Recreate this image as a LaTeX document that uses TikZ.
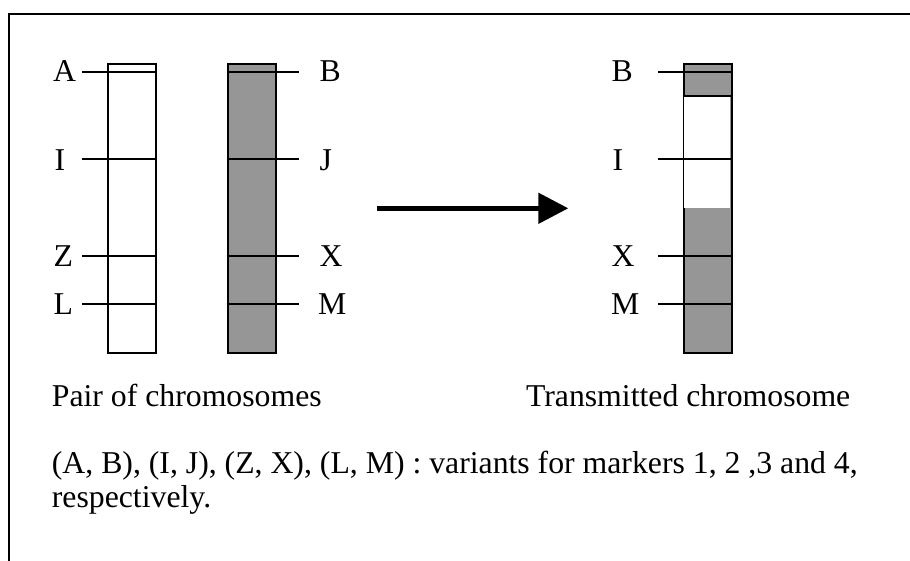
\documentclass[tikz,border=0pt]{standalone}
\usepackage{fontspec}
\setmainfont{Liberation Serif}
\usetikzlibrary{arrows.meta}
\definecolor{chromgray}{HTML}{969696}
\begin{document}
\begin{tikzpicture}[x=1pt,y=-1pt,
  lbl/.style={anchor=base west,inner sep=0pt,font=\fontsize{31.75}{36}\selectfont},
  chrom/.style={draw=black,line width=2pt,minimum width=48pt,minimum height=288.4pt,inner sep=0pt,anchor=north west},
  mk/.style={line width=2pt},
  bigarrow/.style={line width=5pt,-{Triangle[length=30pt,width=30pt]}}]
\useasboundingbox (0,0) rectangle (910,560);
% frame (right and bottom edges lie outside the picture)
\draw[line width=2pt] (9,575) -- (9,14) -- (925,14);

% left chromosome (white)
\node[chrom,fill=white] (c1) at (106.7,63.3) {};
% right chromosome (gray)
\node[chrom,fill=chromgray] (c2) at (226.7,63.3) {};
% transmitted chromosome
\node[chrom,fill=chromgray] (c3) at (682.7,63.3) {};
\fill[white] (683.7,95.7) rectangle (729.7,207.7);
\draw[mk] (682.7,95.7) -- (730.7,95.7);

% marker coordinates and lines
\foreach \n/\y in {A/71.7,I/159.3,Z/256,L/304}{
  \coordinate (l\n) at (82.3,\y);
  \coordinate (r\n) at (155,\y);
  \draw[mk] (l\n) -- (r\n);
}
\foreach \n/\y in {B/71.7,J/159.3,X/256,M/304}{
  \coordinate (l\n) at (226.7,\y);
  \coordinate (r\n) at (299.3,\y);
  \draw[mk] (l\n) -- (r\n);
}
\foreach \n/\y in {B/71.7,I/159.3,X/256,M/304}{
  \coordinate (tl\n) at (658.3,\y);
  \coordinate (tr\n) at (730.7,\y);
  \draw[mk] (tl\n) -- (tr\n);
}

% labels
\node[lbl] (tA) at (53,81.5) {A};
\node[lbl] (tI) at (54.5,170) {I};
\node[lbl] (tZ) at (53.5,266) {Z};
\node[lbl] (tL) at (53.5,314.5) {L};
\node[lbl] (tB) at (319.5,81.5) {B};
\node[lbl] (tJ) at (319.5,170) {J};
\node[lbl] (tX) at (319.5,266) {X};
\node[lbl] (tM) at (318,314.5) {M};
\node[lbl] (uB) at (611.5,81.5) {B};
\node[lbl] (uI) at (612.5,170) {I};
\node[lbl] (uX) at (611.5,266) {X};
\node[lbl] (uM) at (611,314.5) {M};

% arrow
\coordinate (as) at (376.7,208.3);
\coordinate (ae) at (568.3,208.3);
\draw[bigarrow] (as) -- (ae);

% captions
\node[lbl] (cap1) at (51.7,406) {Pair of chromosomes};
\node[lbl,anchor=base east] (cap2) at (850.5,406) {Transmitted chromosome};
\node[lbl] (note1) at (51.7,473) {(A, B), (I, J), (Z, X), (L, M) : variants for markers 1, 2 ,3 and 4,};
\node[lbl] (note2) at (51.7,507) {respectively.};
\end{tikzpicture}
\end{document}
